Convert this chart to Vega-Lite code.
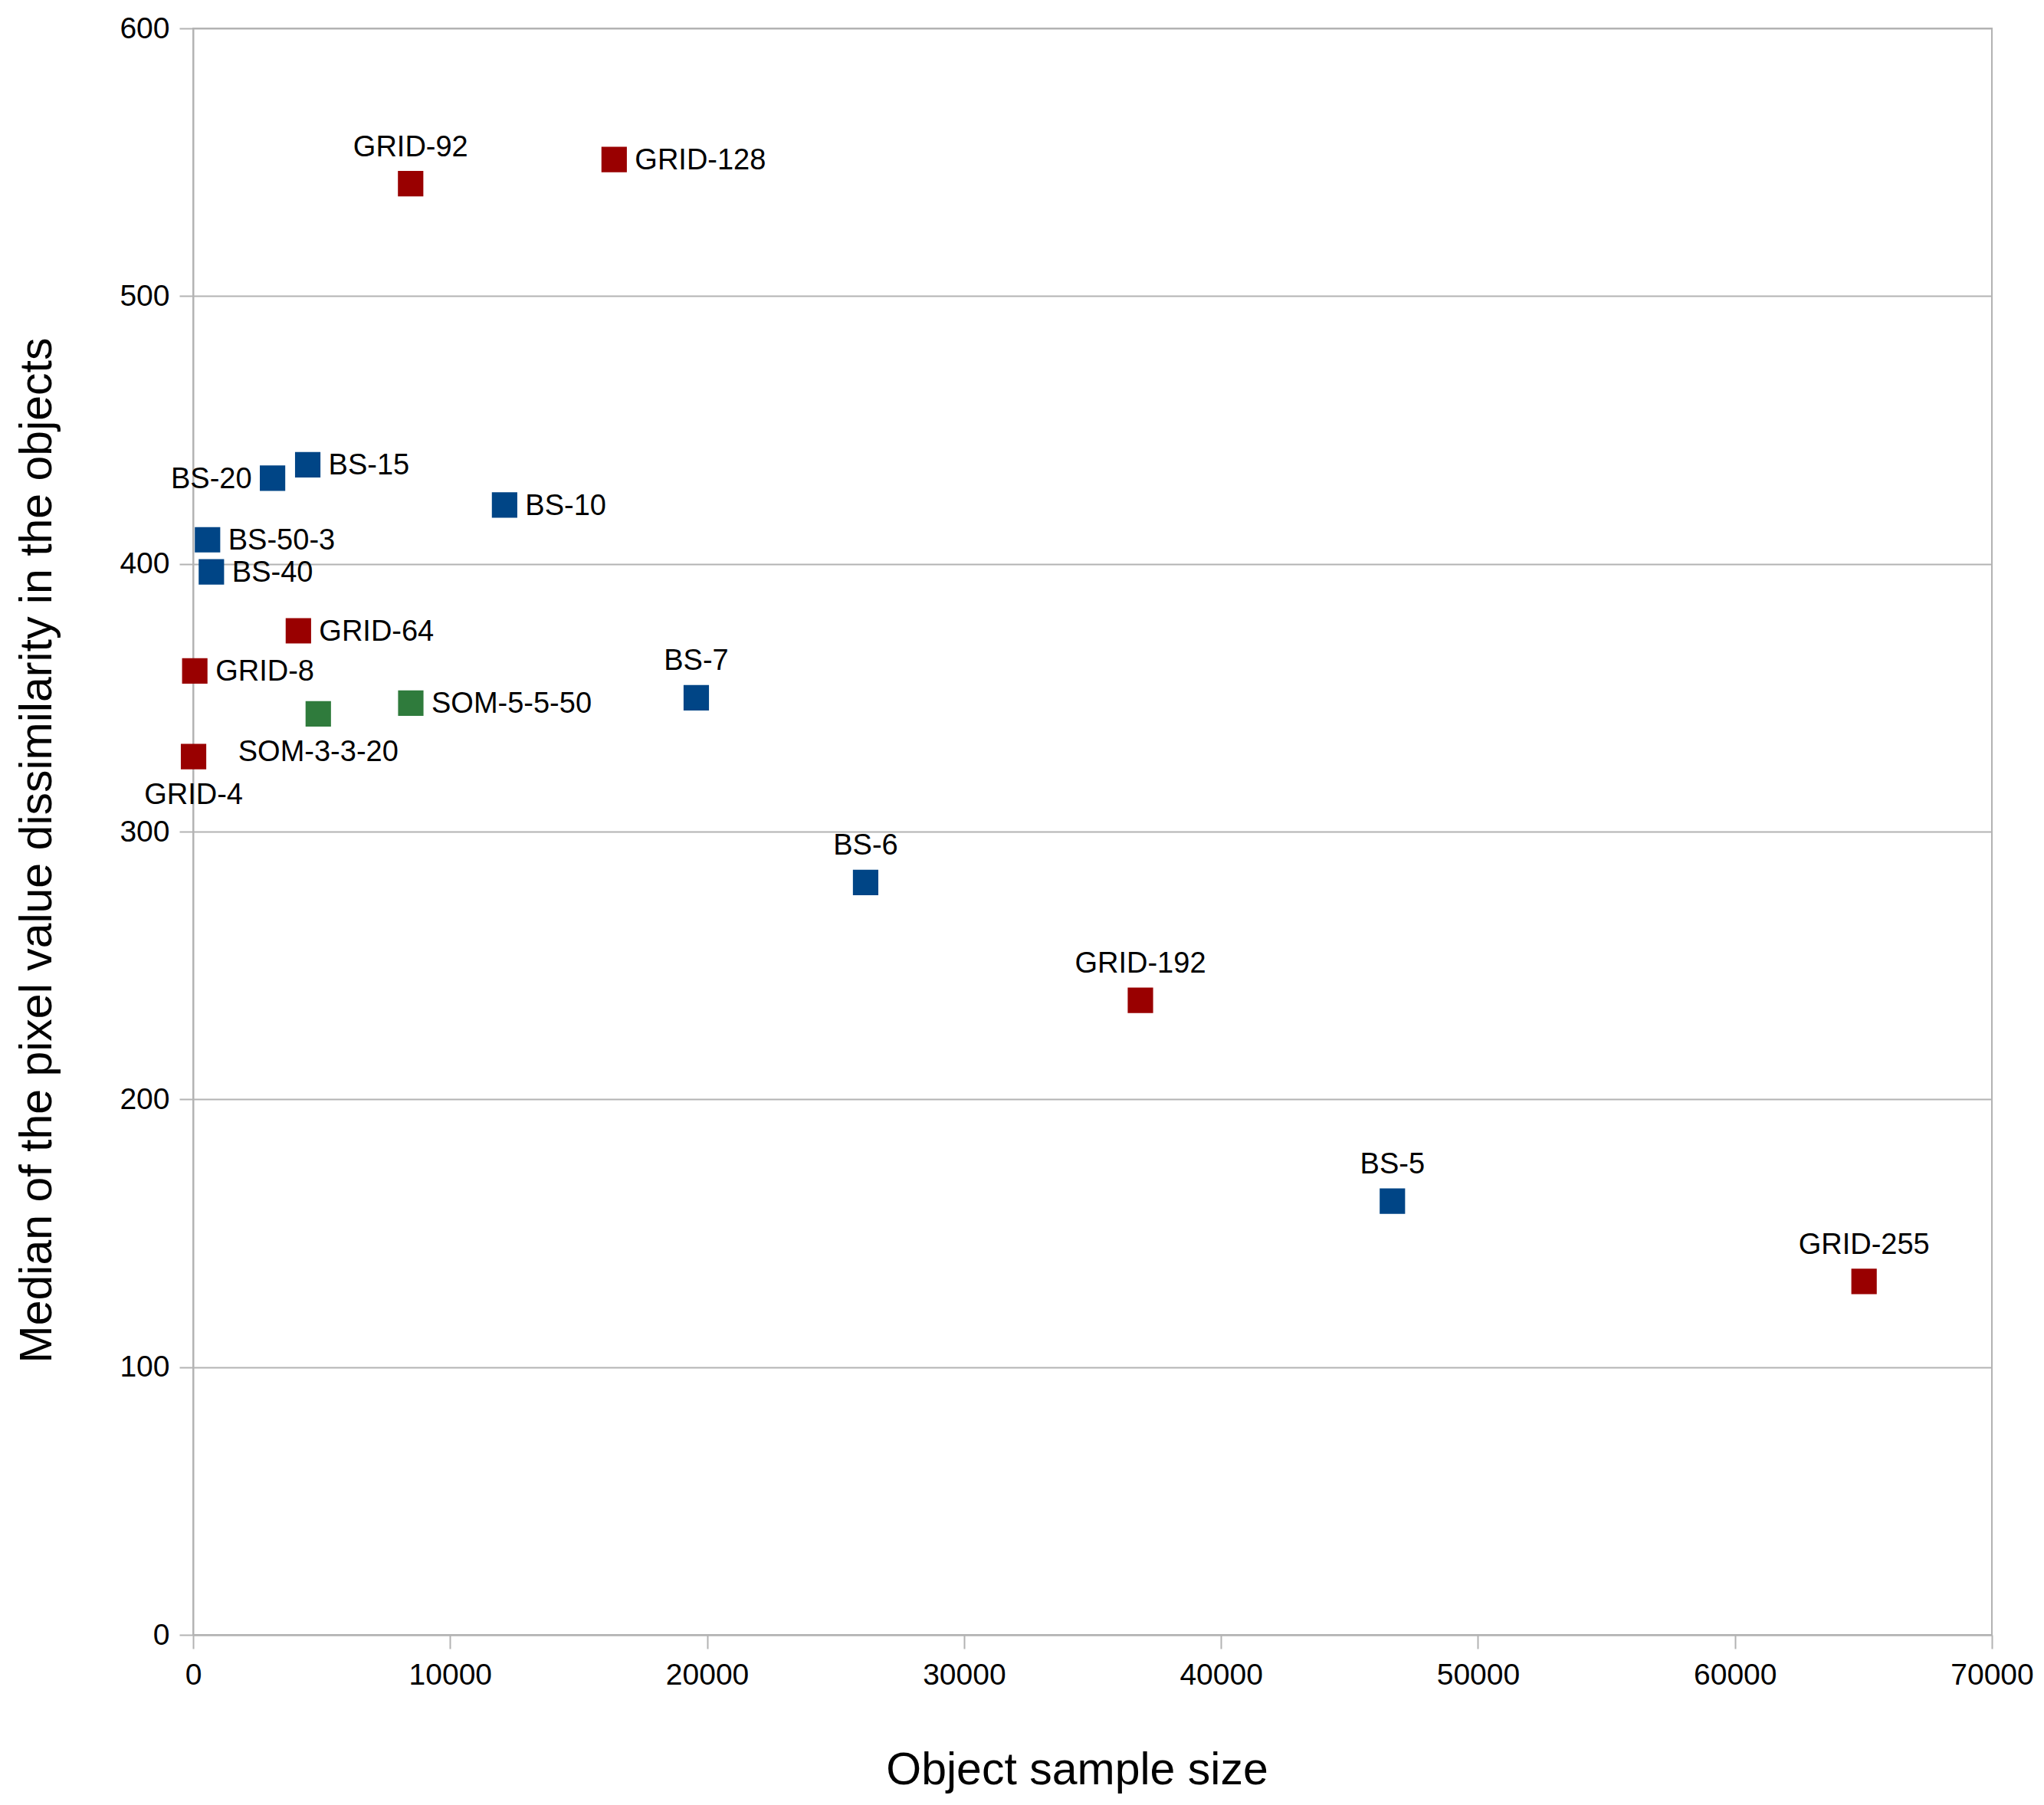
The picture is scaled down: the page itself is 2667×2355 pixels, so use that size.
{
  "$schema": "https://vega.github.io/schema/vega-lite/v6.json",
  "width": 2347,
  "height": 2096,
  "autosize": {"type": "none"},
  "padding": {"left": 252, "top": 37, "right": 68, "bottom": 222},
  "background": "white",
  "config": {
    "font": "Liberation Sans",
    "view": {"stroke": "#b3b3b3", "strokeWidth": 2},
    "axis": {
      "labelFont": "Liberation Sans",
      "labelFontSize": 39,
      "labelColor": "black",
      "titleFont": "Liberation Sans",
      "titleFontSize": 59,
      "titleFontWeight": "normal",
      "titleColor": "black",
      "domainColor": "#b3b3b3",
      "domainWidth": 2,
      "tickColor": "#b3b3b3",
      "tickWidth": 2,
      "tickSize": 18,
      "gridColor": "#b3b3b3",
      "gridWidth": 2
    }
  },
  "data": {
    "values": [
      {"label": "GRID-4", "method": "GRID", "size": 16, "median": 328},
      {"label": "GRID-8", "method": "GRID", "size": 64, "median": 360},
      {"label": "GRID-64", "method": "GRID", "size": 4096, "median": 375},
      {"label": "GRID-92", "method": "GRID", "size": 8464, "median": 542},
      {"label": "GRID-128", "method": "GRID", "size": 16384, "median": 551},
      {"label": "GRID-192", "method": "GRID", "size": 36864, "median": 237},
      {"label": "GRID-255", "method": "GRID", "size": 65025, "median": 132},
      {"label": "BS-50-3", "method": "BS", "size": 560, "median": 409},
      {"label": "BS-40", "method": "BS", "size": 710, "median": 397},
      {"label": "BS-20", "method": "BS", "size": 3090, "median": 432},
      {"label": "BS-15", "method": "BS", "size": 4460, "median": 437},
      {"label": "BS-10", "method": "BS", "size": 12120, "median": 422},
      {"label": "BS-7", "method": "BS", "size": 19580, "median": 350},
      {"label": "BS-6", "method": "BS", "size": 26170, "median": 281},
      {"label": "BS-5", "method": "BS", "size": 46670, "median": 162},
      {"label": "SOM-3-3-20", "method": "SOM", "size": 4870, "median": 344},
      {"label": "SOM-5-5-50", "method": "SOM", "size": 8470, "median": 348}
    ]
  },
  "encoding": {
    "x": {
      "field": "size",
      "type": "quantitative",
      "title": "Object sample size",
      "scale": {"domain": [0, 70000], "nice": false},
      "axis": {
        "values": [0, 10000, 20000, 30000, 40000, 50000, 60000, 70000],
        "format": "d",
        "grid": false,
        "labelPadding": 15,
        "labelFlush": false,
        "titleX": 1153,
        "titleY": 176,
        "titleAlign": "center",
        "titleBaseline": "middle"
      }
    },
    "y": {
      "field": "median",
      "type": "quantitative",
      "title": "Median of the pixel value dissimilarity in the objects",
      "scale": {"domain": [0, 600], "nice": false},
      "axis": {
        "values": [0, 100, 200, 300, 400, 500, 600],
        "grid": true,
        "labelPadding": 13,
        "titleX": -204,
        "titleY": 1072,
        "titleAngle": -90,
        "titleAlign": "center",
        "titleBaseline": "middle"
      }
    }
  },
  "layer": [
    {
      "mark": {"type": "point", "shape": "square", "filled": true, "opacity": 1, "size": 1100},
      "encoding": {
        "color": {
          "field": "method",
          "type": "nominal",
          "scale": {"domain": ["GRID", "BS", "SOM"], "range": ["#990000", "#004586", "#2f7b3c"]},
          "legend": null
        }
      }
    },
    {
      "transform": [{"filter": {"field": "label", "oneOf": ["GRID-128", "BS-15", "BS-10", "BS-50-3", "BS-40", "GRID-64", "GRID-8", "SOM-5-5-50"]}}],
      "mark": {"type": "text", "align": "left", "baseline": "middle", "dx": 27, "dy": 2, "fontSize": 38, "color": "black"},
      "encoding": {"text": {"field": "label"}}
    },
    {
      "transform": [{"filter": {"field": "label", "oneOf": ["GRID-92", "BS-7", "BS-6", "GRID-192", "BS-5", "GRID-255"]}}],
      "mark": {"type": "text", "align": "center", "baseline": "middle", "dy": -47, "fontSize": 38, "color": "black"},
      "encoding": {"text": {"field": "label"}}
    },
    {
      "transform": [{"filter": {"field": "label", "equal": "BS-20"}}],
      "mark": {"type": "text", "align": "right", "baseline": "middle", "dx": -27, "dy": 2, "fontSize": 38, "color": "black"},
      "encoding": {"text": {"field": "label"}}
    },
    {
      "transform": [{"filter": {"field": "label", "oneOf": ["SOM-3-3-20", "GRID-4"]}}],
      "mark": {"type": "text", "align": "center", "baseline": "middle", "dy": 51, "fontSize": 38, "color": "black"},
      "encoding": {"text": {"field": "label"}}
    }
  ]
}
